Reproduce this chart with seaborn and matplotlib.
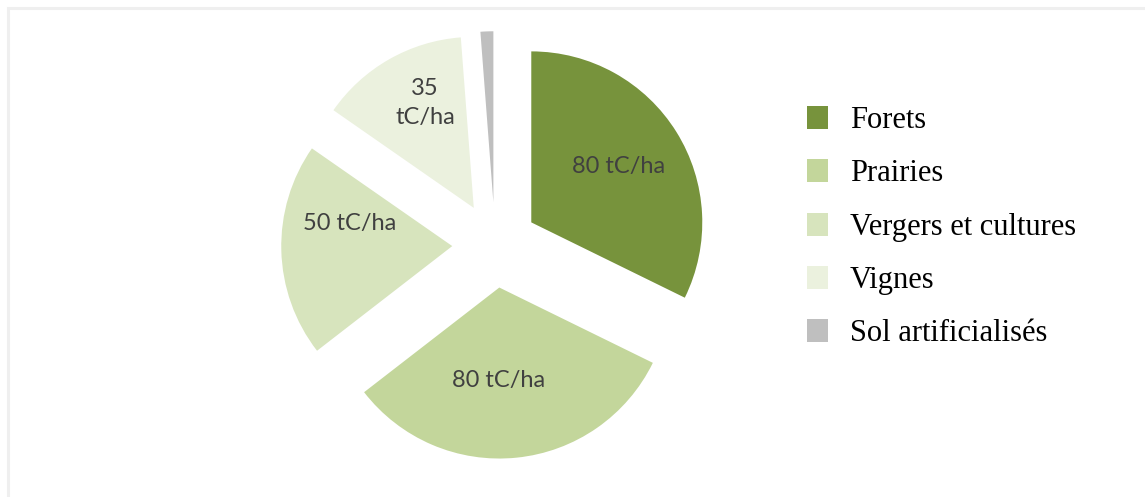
import matplotlib
matplotlib.use("Agg")
import matplotlib.pyplot as plt
from matplotlib.patches import Patch, Rectangle
import seaborn as sns

# Carbon stock per land-use type (tC/ha)
categories = ["Forets", "Prairies", "Vergers et cultures", "Vignes", "Sol artificialisés"]
stocks = [80, 80, 50, 35, 3]
wedge_labels = ["80 tC/ha", "80 tC/ha", "50 tC/ha", "35\ntC/ha", ""]
colors = ["#77933C", "#C3D69B", "#D7E4BD", "#EBF1DE", "#BFBFBF"]

sns.set_theme(style="white")
plt.rcParams["font.family"] = ["Lato", "DejaVu Sans"]

W, H = 1145, 497
fig = plt.figure(figsize=(W / 100, H / 100), dpi=100)
fig.patch.set_facecolor("white")

# chart frame (top and left edges visible)
fig.patches.append(Rectangle((7.5 / W, -0.05), 1.1, (H - 7.5) / H + 0.05,
                             transform=fig.transFigure, fill=False,
                             edgecolor="#EFEFEF", linewidth=2.2, zorder=0))

# pie axes: centre at (495, 245) px, unit radius = 171 px
r_px = 171
span = 3.0 * r_px
cx, cy = 495, H - 245
ax = fig.add_axes([(cx - span / 2) / W, (cy - span / 2) / H, span / W, span / H])

label_iter = iter(wedge_labels)
wedges, texts, autotexts = ax.pie(
    stocks,
    colors=colors,
    startangle=90,
    counterclock=False,
    explode=[0.25] * len(stocks),
    autopct=lambda p: next(label_iter),
    pctdistance=0.62,
    wedgeprops=dict(linewidth=0),
    textprops=dict(color="#404040", fontsize=17, linespacing=1.45),
)

# fine placement of the value labels inside their wedges (axes data units)
label_nudge = [(-0.018, 0.0), (-0.07, 0.076), (0.018, 0.15), (0.023, 0.076), (0.0, 0.0)]
for t, (dx, dy) in zip(autotexts, label_nudge):
    x, y = t.get_position()
    t.set_position((x + dx, y + dy))

ax.set_xlim(-1.5, 1.5)
ax.set_ylim(-1.5, 1.5)
ax.axis("off")

handles = [Patch(facecolor=c, edgecolor="none") for c in colors]
leg = fig.legend(
    handles, categories,
    loc="upper left",
    bbox_to_anchor=(807 / W, 1 - 106 / H),
    frameon=False,
    borderaxespad=0.0,
    borderpad=0.0,
    prop=dict(family="Liberation Serif", size=22),
    handlelength=0.69,
    handleheight=0.78,
    handletextpad=0.72,
    labelspacing=0.79,
    labelcolor="black",
)

fig.savefig("out.png", dpi=100, facecolor="white")
